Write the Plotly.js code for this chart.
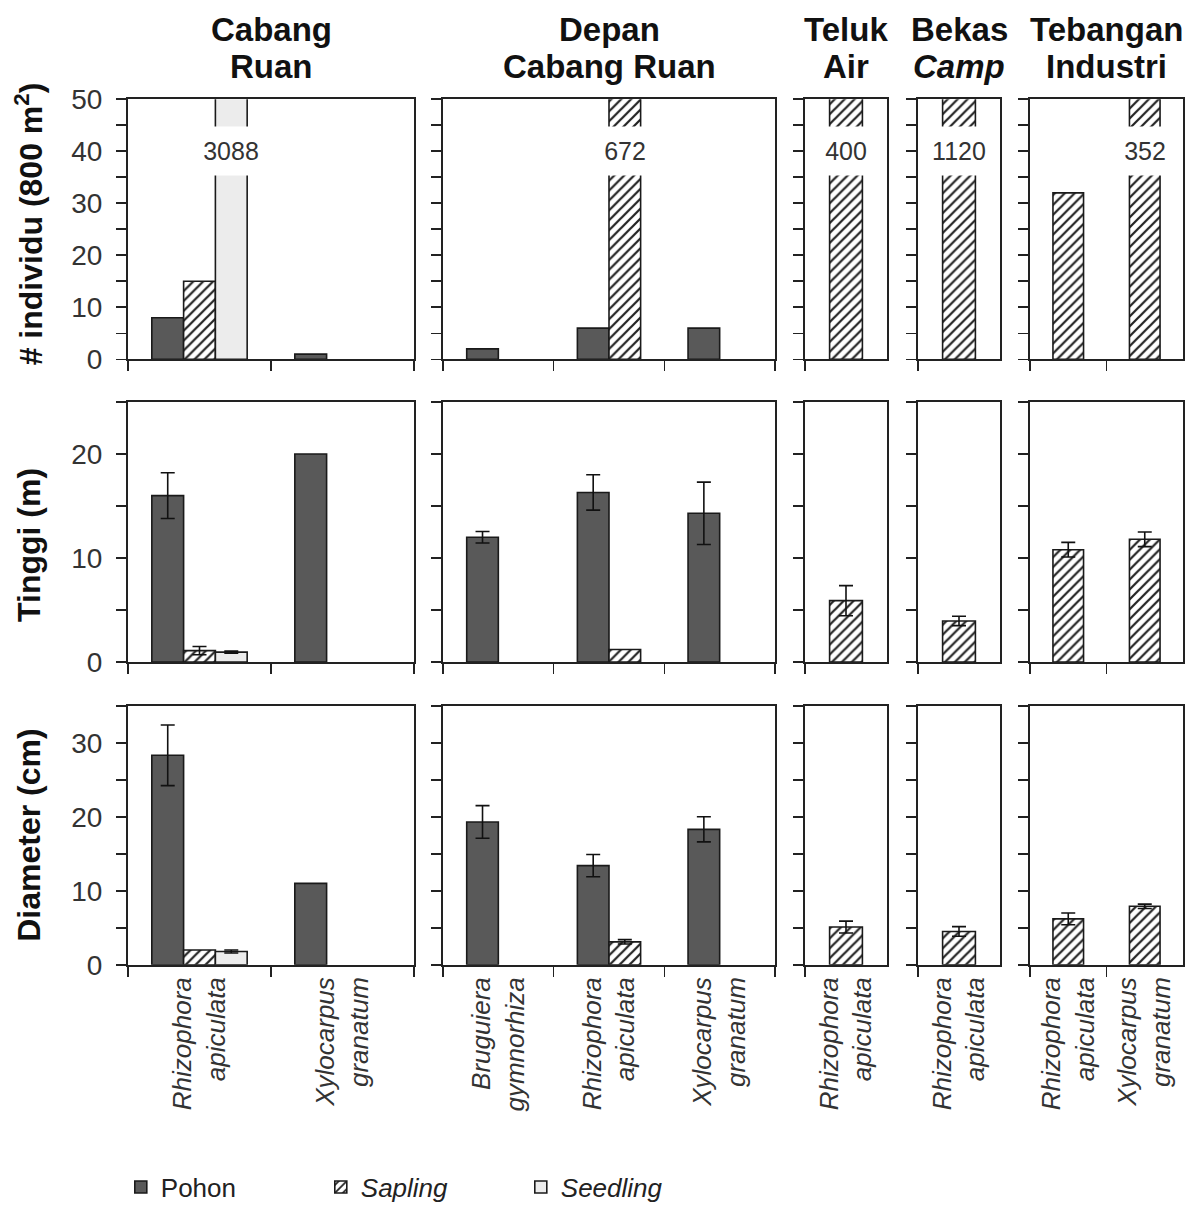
<!DOCTYPE html>
<html>
<head>
<meta charset="utf-8">
<script src="https://cdn.plot.ly/plotly-3.0.1.min.js"></script>
<style>
html,body{margin:0;padding:0;background:#ffffff;}
#chart{width:1196px;height:1211px;}
</style>
</head>
<body>
<div id="chart"></div>
<script>
// ---------------- DATA ----------------
const siteNames = ["Cabang Ruan", "Depan Cabang Ruan", "Teluk Air", "Bekas Camp", "Tebangan Industri"];
const siteTitleLine1 = ["Cabang", "Depan", "Teluk", "Bekas", "Tebangan"];
const siteTitleLine2 = ["Ruan", "Cabang Ruan", "Air", "<i>Camp</i>", "Industri"];
const siteSpecies = [
  ["Rhizophora apiculata", "Xylocarpus granatum"],
  ["Bruguiera gymnorhiza", "Rhizophora apiculata", "Xylocarpus granatum"],
  ["Rhizophora apiculata"],
  ["Rhizophora apiculata"],
  ["Rhizophora apiculata", "Xylocarpus granatum"]
];
const seriesNames = ["Pohon", "Sapling", "Seedling"];
const seriesLegend = ["Pohon", "<i>Sapling</i>", "<i>Seedling</i>"];
const rowTitles = ["# individu (800 m<sup>2</sup>)", "Tinggi (m)", "Diameter (cm)"];

// # individu (800 m2) per site, per species
const individuPohon    = [[8, 1], [2, 6, 6], [null], [null], [null, null]];
const individuSapling  = [[15, null], [null, 672, null], [400], [1120], [32, 352]];
const individuSeedling = [[3088, null], [null, null, null], [null], [null], [null, null]];

// Tinggi (m)
const tinggiPohon      = [[16.0, 20.0], [12.0, 16.3, 14.3], [null], [null], [null, null]];
const tinggiPohonSE    = [[2.2, null], [0.55, 1.7, 3.0], [null], [null], [null, null]];
const tinggiSapling    = [[1.1, null], [null, 1.2, null], [5.9], [3.95], [10.8, 11.8]];
const tinggiSaplingSE  = [[0.4, null], [null, null, null], [1.45], [0.45], [0.7, 0.7]];
const tinggiSeedling   = [[0.95, null], [null, null, null], [null], [null], [null, null]];
const tinggiSeedlingSE = [[0.1, null], [null, null, null], [null], [null], [null, null]];

// Diameter (cm)
const diameterPohon      = [[28.3, 11.0], [19.3, 13.4, 18.3], [null], [null], [null, null]];
const diameterPohonSE    = [[4.1, null], [2.2, 1.5, 1.7], [null], [null], [null, null]];
const diameterSapling    = [[2.0, null], [null, 3.1, null], [5.1], [4.5], [6.2, 7.9]];
const diameterSaplingSE  = [[null, null], [null, 0.3, null], [0.8], [0.65], [0.8, 0.3]];
const diameterSeedling   = [[1.8, null], [null, null, null], [null], [null], [null, null]];
const diameterSeedlingSE = [[0.2, null], [null, null, null], [null], [null], [null, null]];

const rowMax = [50, 25, 35];
const breakLabelY = 40;

// ---------------- LAYOUT GEOMETRY ----------------
const W = 1196, H = 1211;
const colPx = [[128, 414], [443, 775], [805, 887], [918, 1000], [1030, 1183]];
const rowPx = [[100, 362], [405, 667], [711, 972]];
const rowTitleCenter = [226, 549, 842];
const FONT = "Liberation Sans, Arial, Helvetica, sans-serif";

const values = [
  [individuPohon, individuSapling, individuSeedling],
  [tinggiPohon, tinggiSapling, tinggiSeedling],
  [diameterPohon, diameterSapling, diameterSeedling]
];
const errors = [
  [null, null, null],
  [tinggiPohonSE, tinggiSaplingSE, tinggiSeedlingSE],
  [diameterPohonSE, diameterSaplingSE, diameterSeedlingSE]
];

function markerFor(s) {
  const line = {color: "#1a1a1a", width: 1.6};
  if (s === 0) return {color: "#595959", line: line};
  if (s === 1) return {color: "#ffffff", line: line,
    pattern: {shape: "/", fgcolor: "#222222", bgcolor: "#ffffff", size: 7, solidity: 0.32}};
  return {color: "#ececec", line: line};
}

// which series appear at each site
const presentSeries = siteNames.map((_, c) => {
  const out = [];
  for (let s = 0; s < 3; s++) {
    let any = false;
    for (let r = 0; r < 3; r++) values[r][s][c].forEach(v => { if (v !== null) any = true; });
    if (any) out.push(s);
  }
  return out;
});

const traces = [];
const layout = {
  width: W, height: H,
  margin: {l: 0, r: 0, t: 0, b: 0},
  paper_bgcolor: "#ffffff", plot_bgcolor: "#ffffff",
  barmode: "overlay",
  font: {family: FONT, color: "#222"},
  showlegend: true,
  legend: {
    orientation: "h", x: 0.101, xanchor: "left", y: 1 - 1196 / H, yanchor: "middle",
    font: {family: FONT, size: 26, color: "#222"},
    entrywidth: 155, entrywidthmode: "pixels",
    bgcolor: "rgba(0,0,0,0)", traceorder: "normal"
  },
  annotations: []
};

for (let r = 0; r < 3; r++) {
  for (let c = 0; c < 5; c++) {
    const k = r * 5 + c + 1;
    const xa = "x" + (k === 1 ? "" : k), ya = "y" + (k === 1 ? "" : k);
    const xKey = "xaxis" + (k === 1 ? "" : k), yKey = "yaxis" + (k === 1 ? "" : k);
    const cats = siteSpecies[c].map(sp => sp.replace(" ", "<br>"));
    const n = presentSeries[c].length;
    const w = 1 / (n + 1.5);

    presentSeries[c].forEach((s, p) => {
      const off = -n * w / 2 + p * w;
      const yv = values[r][s][c];
      const t = {
        type: "bar", x: cats, y: yv, width: w, offset: off,
        xaxis: xa, yaxis: ya, name: seriesLegend[s], legendgroup: seriesNames[s],
        showlegend: (r === 0 && c === 0), marker: markerFor(s), hoverinfo: "y"
      };
      const e = errors[r][s];
      if (e) {
        const arr = e[c].map(v => (v === null ? NaN : v));
        if (arr.some(v => !isNaN(v))) {
          t.error_y = {type: "data", array: arr, visible: true, color: "#111", thickness: 1.6, width: 7};
        }
      }
      traces.push(t);
      // broken bars: values beyond the axis maximum get a label in a gap
      yv.forEach((v, i) => {
        if (v !== null && v > rowMax[r]) {
          layout.annotations.push({
            xref: xa, yref: ya, x: i + off + w / 2, y: breakLabelY,
            text: String(v), showarrow: false, bgcolor: "#ffffff",
            font: {family: FONT, size: 25, color: "#333"},
            width: 60, height: 48, borderpad: 0, valign: "middle", align: "center"
          });
        }
      });
    });

    const tv = [];
    for (let v = 0; v <= rowMax[r]; v += 5) tv.push(v);
    layout[xKey] = {
      domain: [colPx[c][0] / W, colPx[c][1] / W], anchor: ya,
      type: "category", categoryorder: "array", categoryarray: cats,
      range: [-0.5, cats.length - 0.5],
      tickson: "boundaries", ticks: "outside", ticklen: 10, tickwidth: 1.6, tickcolor: "#222",
      showline: true, mirror: true, linecolor: "#222", linewidth: 2,
      showgrid: false, zeroline: false,
      showticklabels: r === 2, tickangle: -90,
      tickfont: {family: FONT, size: 26, color: "#333", style: "italic"},
      fixedrange: true
    };
    layout[yKey] = {
      domain: [1 - rowPx[r][1] / H, 1 - rowPx[r][0] / H], anchor: xa,
      range: [0, rowMax[r]],
      tickmode: "array", tickvals: tv, ticktext: tv.map(v => (v % 10 === 0 ? String(v) : "")),
      ticks: "outside", ticklen: 10, tickwidth: 1.6, tickcolor: "#222",
      showline: true, mirror: true, linecolor: "#222", linewidth: 2,
      showgrid: false, zeroline: false,
      showticklabels: c === 0, ticklabelstandoff: 8,
      tickfont: {family: FONT, size: 28, color: "#333"},
      fixedrange: true
    };
  }
}

// column titles
for (let c = 0; c < 5; c++) {
  const cx = (colPx[c][0] + colPx[c][1]) / 2 / W;
  layout.annotations.push({xref: "paper", yref: "paper", x: cx, y: 1 - 30 / H, xanchor: "center", yanchor: "middle",
    text: "<b>" + siteTitleLine1[c] + "</b>", showarrow: false, font: {family: FONT, size: 33, color: "#111"}});
  layout.annotations.push({xref: "paper", yref: "paper", x: cx, y: 1 - 67 / H, xanchor: "center", yanchor: "middle",
    text: "<b>" + siteTitleLine2[c] + "</b>", showarrow: false, font: {family: FONT, size: 33, color: "#111"}});
}
// row (y axis) titles
for (let r = 0; r < 3; r++) {
  layout.annotations.push({xref: "paper", yref: "paper", x: 29 / W, y: 1 - rowTitleCenter[r] / H,
    xanchor: "center", yanchor: "middle", textangle: -90,
    text: "<b>" + rowTitles[r] + "</b>", showarrow: false, font: {family: FONT, size: 32, color: "#111"}});
}

Plotly.newPlot("chart", traces, layout, {staticPlot: true, displayModeBar: false});
</script>
</body>
</html>
